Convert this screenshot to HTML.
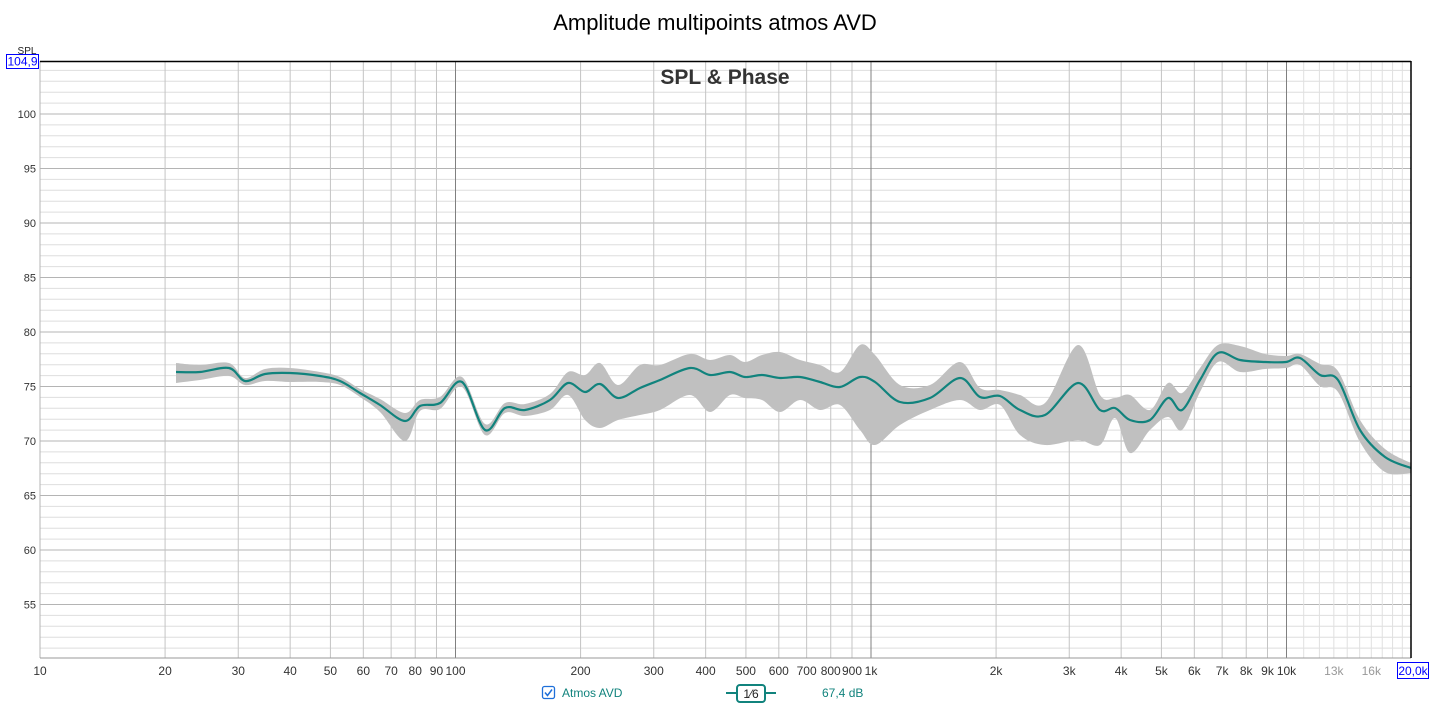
<!DOCTYPE html>
<html><head><meta charset="utf-8"><style>
body{margin:0;background:#fff;width:1431px;height:709px;overflow:hidden;font-family:"Liberation Sans",sans-serif}
</style></head><body>
<svg id="s" width="1431" height="709" xmlns="http://www.w3.org/2000/svg" font-family="Liberation Sans, sans-serif">
<text x="715" y="30" font-size="22" text-anchor="middle" fill="#000">Amplitude multipoints atmos AVD</text>
<g id="grid"></g>
<path id="band" fill="#c0c0c0" stroke="none"/>
<path id="mean" fill="none" stroke="#11837d" stroke-width="2.2"/>
<line x1="40" y1="61.5" x2="1411" y2="61.5" stroke="#000" stroke-width="1.5"/>
<line x1="1411" y1="61" x2="1411" y2="658" stroke="#000" stroke-width="1.5"/>
<text x="725" y="84" font-size="21" font-weight="bold" text-anchor="middle" fill="#333">SPL &amp; Phase</text>
<text x="27" y="54" font-size="10" text-anchor="middle" fill="#222">SPL</text>
<rect x="6.5" y="54.5" width="32" height="14" fill="#fff" stroke="#00f"/>
<text x="22.5" y="65.5" font-size="12" text-anchor="middle" fill="#00f">104,9</text>
<rect x="1397.5" y="662.5" width="31" height="16" fill="#fff" stroke="#00f"/>
<text x="1413" y="675" font-size="12" text-anchor="middle" fill="#00f">20,0k</text>
<rect x="542.5" y="686.5" width="12" height="12" rx="2" fill="#fff" stroke="#1e6fd9" stroke-width="1.3"/>
<path d="M545 692.5 l2.5 3 l4.5-6" fill="none" stroke="#1e6fd9" stroke-width="1.5"/>
<text x="562" y="697" font-size="12" fill="#11837d">Atmos AVD</text>
<line x1="726" y1="693" x2="776" y2="693" stroke="#11837d" stroke-width="2"/>
<rect x="737" y="685" width="28" height="17" rx="3" fill="#fff" stroke="#11837d" stroke-width="2"/>
<text x="751" y="698" font-size="12" text-anchor="middle" fill="#222">1⁄6</text>
<text x="822" y="697" font-size="12" fill="#11837d">67,4 dB</text>
</svg>
<script>
(function(){
const L=40,R=1411,T=61,B=658,D=415.5;
const fx=f=>L+(Math.log10(f)-1)*D, dy=d=>114+(100-d)*10.9;
const NS='http://www.w3.org/2000/svg';
let g='';
for(let d=51;d<=104;d++){const y=dy(d);const m=d%5==0;g+=`<line x1="${L}" x2="${R}" y1="${y}" y2="${y}" stroke="${m?'#b4b4b4':'#dedede'}" stroke-width="1"/>`;
 if(m&&d>=55&&d<=100)g+=`<text x="36" y="${y+4}" font-size="11" text-anchor="end" fill="#333">${d}</text>`;}
for(let dec=10;dec<=10000;dec*=10){for(let k=1;k<10;k++){const f=dec*k;const x=fx(f);if(x>R)break;
 g+=`<line x1="${x}" x2="${x}" y1="${T}" y2="${B}" stroke="${k==1?(dec==10?'#b4b4b4':'#808080'):'#c4c4c4'}" stroke-width="1"/>`;}}
[11,12,13,14,15,16,17,18,19].forEach(k=>{const x=fx(k*1000);g+=`<line x1="${x}" x2="${x}" y1="${T}" y2="${B}" stroke="#e0e0e0"/>`;});
g+=`<line x1="${L}" x2="${R}" y1="${B}" y2="${B}" stroke="#999"/>`;
const labs=[[10,'10'],[20,'20'],[30,'30'],[40,'40'],[50,'50'],[60,'60'],[70,'70'],[80,'80'],[90,'90'],[100,'100'],[200,'200'],[300,'300'],[400,'400'],[500,'500'],[600,'600'],[700,'700'],[800,'800'],[900,'900'],[1000,'1k'],[2000,'2k'],[3000,'3k'],[4000,'4k'],[5000,'5k'],[6000,'6k'],[7000,'7k'],[8000,'8k'],[9000,'9k'],[10000,'10k'],[13000,'13k'],[16000,'16k']];
labs.forEach(([f,t])=>{let x=fx(f);g+=`<text x="${x}" y="675" font-size="12" text-anchor="middle" fill="${f>10000?'#999':'#333'}">${t}</text>`});
const gr=document.getElementById('grid');
const tmp=new DOMParser().parseFromString(`<svg xmlns="${NS}">${g}</svg>`,'image/svg+xml').documentElement;
while(tmp.firstChild)gr.appendChild(document.importNode(tmp.firstChild,true)),tmp.removeChild(tmp.firstChild);
const P=[[176,372,363,383],[200,372,365,380],[229,368,363,376],[245,381,378,385],[265,374,369,381],[290,373,368,382],[320,376,372,382],[340,381,377,385],[360,393,389,397],[380,405,399,412],[405,421,413,441],[420,406,400,411],[440,403,397,409],[462,382,377,387],[485,430,424,435],[505,408,403,413],[525,410,404,416],[550,400,394,410],[568,383,372,395],[585,392,375,420],[600,384,363,428],[618,398,385,420],[640,388,365,415],[660,380,365,410],[690,368,354,395],[710,375,360,412],[730,372,355,395],[745,377,362,398],[762,375,355,400],[780,378,352,412],[800,377,360,400],[820,382,365,410],[840,387,372,405],[860,377,345,430],[875,382,355,445],[900,402,385,425],[930,398,385,410],[960,378,362,400],[980,397,388,410],[1000,396,390,405],[1020,410,395,435],[1045,415,403,445],[1078,383,345,440],[1100,410,395,445],[1115,408,398,418],[1130,420,395,453],[1150,420,410,430],[1168,398,383,417],[1182,410,393,430],[1200,380,368,392],[1218,353,345,362],[1240,360,346,372],[1265,362,354,369],[1286,362,356,368],[1300,358,354,365],[1320,375,364,386],[1338,380,371,392],[1360,430,420,442],[1385,457,449,472],[1411,468,463,473]];
function cr(pts){let d=`M${pts[0][0]},${pts[0][1]}`;for(let i=0;i<pts.length-1;i++){const p0=pts[Math.max(0,i-1)],p1=pts[i],p2=pts[i+1],p3=pts[Math.min(pts.length-1,i+2)];
d+=` C${p1[0]+(p2[0]-p0[0])/6},${p1[1]+(p2[1]-p0[1])/6} ${p2[0]-(p3[0]-p1[0])/6},${p2[1]-(p3[1]-p1[1])/6} ${p2[0]},${p2[1]}`}return d}
document.getElementById('mean').setAttribute('d',cr(P.map(p=>[p[0],p[1]])));
const up=P.map(p=>[p[0],p[2]]),dn=P.map(p=>[p[0],p[3]]).reverse();
document.getElementById('band').setAttribute('d',cr(up)+' L'+cr(dn).slice(1)+' Z');
})();
</script>
</body></html>
